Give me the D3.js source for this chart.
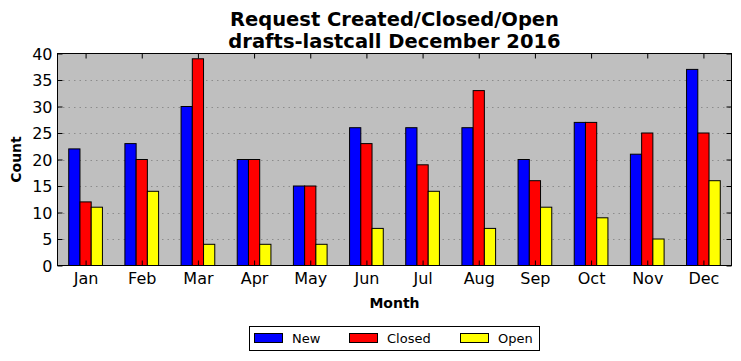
<!DOCTYPE html>
<html><head><meta charset="utf-8">
<script src="https://cdn.jsdelivr.net/npm/d3@7"></script>
<style>
body{margin:0;background:#fff;}
svg{display:block;font-family:"DejaVu Sans",sans-serif;}
</style></head>
<body><svg id="c" width="741" height="361"></svg>
<script>
const months = ["Jan","Feb","Mar","Apr","May","Jun","Jul","Aug","Sep","Oct","Nov","Dec"];
const newVals = [22,23,30,20,15,26,26,26,20,27,21,37];
const closedVals = [12,20,39,20,15,23,19,33,16,27,25,25];
const openVals = [11,14,4,4,4,7,14,7,11,9,5,16];
const seriesNames = ["New","Closed","Open"];
const seriesColors = ["#0000ff","#ff0000","#ffff00"];
const yTicks = [0,5,10,15,20,25,30,35,40];

const svg = d3.select("#c");
const L = 57.5, R = 731.5, T = 53.5, B = 265.5;
const x = d3.scaleLinear().domain([-0.2, 11.8]).range([L, R]);
const y = d3.scaleLinear().domain([0, 40]).range([B, T]);
const bw = 0.2;

svg.append("rect").attr("x", L).attr("y", T).attr("width", R - L).attr("height", B - T).attr("fill", "#bfbfbf");

// grid
svg.append("g").selectAll("line").data(yTicks.slice(1, -1)).join("line")
  .attr("x1", L).attr("x2", R).attr("y1", d => Math.round(y(d)) + 0.5).attr("y2", d => Math.round(y(d)) + 0.5)
  .attr("stroke", "#8c8c8c").attr("stroke-width", 1).attr("stroke-dasharray", "1.5,4");

const series = [newVals, closedVals, openVals];
series.forEach((vals, si) => {
  svg.append("g").selectAll("rect").data(vals).join("rect")
    .attr("x", (d, i) => x(i + si * bw))
    .attr("y", d => y(d))
    .attr("width", x(bw) - x(0))
    .attr("height", d => y(0) - y(d))
    .attr("fill", seriesColors[si]).attr("stroke", "#000").attr("stroke-width", 1);
});

// axes
const tickPos = months.map((m, i) => i + 0.3);
const xb = svg.append("g").attr("transform", `translate(0,${B})`)
  .call(d3.axisBottom(x).tickValues(tickPos).tickFormat((d, i) => months[i]).tickSizeInner(-5).tickSizeOuter(0).tickPadding(7));
const xt = svg.append("g").attr("transform", `translate(0,${T})`)
  .call(d3.axisTop(x).tickValues(tickPos).tickFormat("").tickSizeInner(-5).tickSizeOuter(0));
const yl = svg.append("g").attr("transform", `translate(${L},0)`)
  .call(d3.axisLeft(y).tickValues(yTicks).tickSizeInner(-5).tickSizeOuter(0).tickPadding(5));
const yr = svg.append("g").attr("transform", `translate(${R},0)`)
  .call(d3.axisRight(y).tickValues(yTicks).tickFormat("").tickSizeInner(-5).tickSizeOuter(0));
[xb, xt, yl, yr].forEach(g => {
  g.select(".domain").remove();
  g.selectAll("line").attr("stroke", "#000");
  g.selectAll("text").attr("font-size", 16).attr("fill", "#000").attr("font-family", "DejaVu Sans, sans-serif");
});
yl.selectAll("text").attr("dy", "0.35em");
svg.append("rect").attr("x", L).attr("y", T).attr("width", R - L).attr("height", B - T)
  .attr("fill", "none").attr("stroke", "#000").attr("stroke-width", 1);

// titles
const cx = (L + R) / 2;
svg.append("text").attr("x", cx).attr("y", 26).attr("text-anchor", "middle").attr("font-size", 19.5).attr("font-weight", "bold").text("Request Created/Closed/Open");
svg.append("text").attr("x", cx).attr("y", 47.5).attr("text-anchor", "middle").attr("font-size", 19.5).attr("font-weight", "bold").text("drafts-lastcall December 2016");
svg.append("text").attr("x", cx).attr("y", 308).attr("text-anchor", "middle").attr("font-size", 14).attr("font-weight", "bold").text("Month");
svg.append("text").attr("transform", `translate(21,${(T + B) / 2}) rotate(-90)`).attr("text-anchor", "middle").attr("font-size", 14).attr("font-weight", "bold").text("Count");

// legend
const lg = svg.append("g");
lg.append("rect").attr("x", 249.5).attr("y", 326.5).attr("width", 290).attr("height", 24).attr("fill", "#fff").attr("stroke", "#000");
const legX = [254, 349, 460];
seriesNames.forEach((n, i) => {
  lg.append("rect").attr("x", legX[i] + 0.5).attr("y", 333.5).attr("width", 28).attr("height", 9).attr("fill", seriesColors[i]).attr("stroke", "#000");
  lg.append("text").attr("x", legX[i] + 38).attr("y", 343).attr("font-size", 13).text(n);
});
</script></body></html>
